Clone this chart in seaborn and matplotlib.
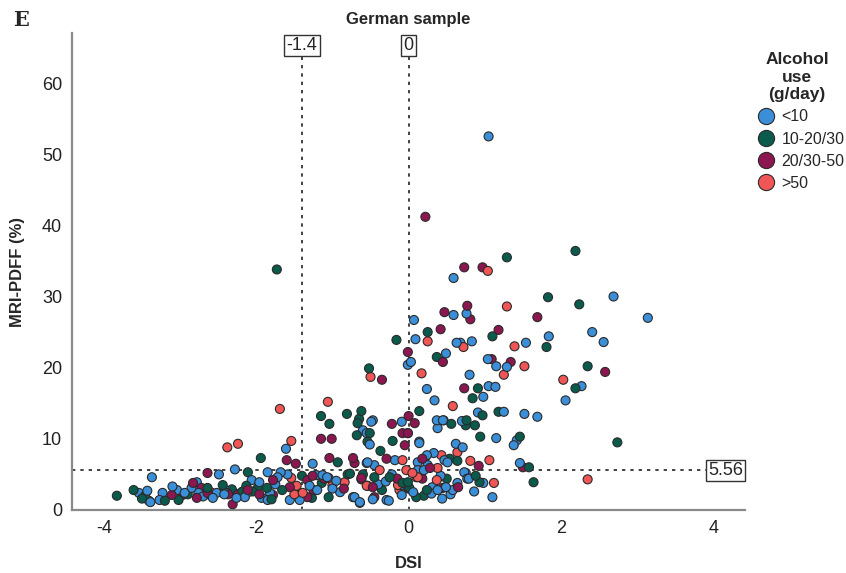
import numpy as np
import pandas as pd
import seaborn as sns
import matplotlib.pyplot as plt

# values (DSI, MRI-PDFF %)
blue_x = [1.05, 0.59, 2.69, 0.59, 0.76, 0.07, 3.14, 2.41, 1.84, 2.56, 0.09, 0.63, 0.68, 0.83, 1.54,
          0.49, -0.01, 0.03, 1.04, 1.15, 1.29, 0.80, 2.27, 0.24, 1.05, 1.14, 0.98, 2.06, 0.34, 1.52,
          1.69, 0.91, 1.25, 0.45, 0.70, 1.15, 1.38, 1.42, 0.62, 0.71, 1.46, 0.37, 0.46, 0.38, 0.14,
          0.24, 0.33, 0.12, 0.47, 0.51, 0.25, 0.12, 0.20, 0.73, 0.79, 0.98, 0.64, 0.49, 0.58, 0.31,
          0.38, 1.10, 0.77, 0.75, -0.09, -0.49, -0.47, -0.60, -0.55, -0.51, -0.01, 0.14, -0.55, -0.45,
          -0.18, -0.22, -0.71, -0.64, -0.47, -0.26, -0.09, 0.30, 0.55, 0.44, -1.61, -1.26, -0.54, -1.85,
          -1.68, -1.59, -1.13, -1.07, -2.06, -1.96, -1.93, -1.85, -0.73, -0.64, -0.29, -2.15, -3.37,
          -2.49, -2.28, -3.54, -3.43, -3.41, -3.39, -3.27, -3.23, -3.04, -2.94, -2.85, -2.76, -2.57,
          -2.78, -2.41, -2.39, -2.26, -2.36, -2.42, -1.72, -1.56, -1.82, -2.20, -2.12, -2.52, -2.63,
          -1.43, -1.21, -1.00, -0.90, -1.20, -0.30, -0.10, 0.00, -3.10, -2.70, -1.75, -1.30, -0.95,
          -0.40, 0.06, 0.42, 0.86]
blue_y = [52.5, 32.6, 30.0, 27.4, 27.6, 26.7, 27.0, 25.0, 24.4, 23.6, 24.0, 23.5, 23.5, 23.7, 23.5,
          22.0, 20.4, 20.8, 21.2, 20.2, 20.1, 19.0, 17.4, 17.0, 17.4, 17.3, 15.9, 15.4, 15.4, 13.5,
          13.1, 13.7, 13.8, 12.6, 12.5, 10.1, 9.1, 9.8, 9.3, 8.8, 6.6, 12.6, 12.6, 11.5, 9.4,
          7.7, 8.0, 6.7, 7.0, 6.7, 6.3, 5.6, 5.6, 5.3, 4.4, 3.8, 3.8, 3.2, 2.8, 3.2,
          2.8, 1.8, 4.4, 5.2, 12.4, 12.4, 12.6, 11.2, 10.8, 9.2, 10.8, 9.6, 6.6, 6.3,
          7.0, 5.0, 1.8, 1.0, 1.5, 1.3, 2.1, 2.3, 2.2, 1.6, 8.6, 6.5, 6.7, 5.3,
          5.3, 5.0, 4.9, 4.6, 4.2, 3.9, 1.7, 1.4, 1.8, 1.1, 1.4, 1.8, 4.6,
          5.0, 5.7, 2.4, 2.7, 1.3, 1.1, 1.4, 2.4, 2.8, 2.4, 3.1, 2.4, 1.7,
          3.9, 2.8, 2.4, 1.7, 2.4, 2.2, 4.6, 1.4, 2.4, 2.4, 2.4, 2.4, 2.2,
          1.4, 4.9, 3.0, 2.5, 2.8, 4.0, 3.5, 3.0, 3.3, 1.9, 3.6, 3.4, 4.1,
          3.6, 2.5, 4.8, 2.6]

green_x = [-1.73, 2.19, 1.29, 1.83, 2.24, 0.25, 1.10, -0.16, 1.81, 0.37, 2.35, -0.52, 2.19, 0.91,
           0.84, 2.74, 0.97, 1.18, 0.56, 0.75, 0.76, 0.87, 0.94, 1.46, 0.54, 0.64, 0.14, 0.88, 0.93,
           1.64, 0.24, 0.01, -0.01, -0.81, -0.62, -0.67, -0.65, -0.68, -0.51, -0.54, -0.21, -0.37,
           -0.77, -0.45, -0.60, 0.24, -1.15, -1.04, -1.94, -0.93, -2.11, -1.40, -1.14, -0.80, -1.98,
           -1.86, -1.66, -1.27, -1.05, -3.83, -3.61, -3.46, -3.20, -3.02, -2.64, -2.44, -2.32, -2.18,
           -2.13, -3.50, -2.05, -1.80, 0.10, 0.20, -0.35, -0.08, 1.58, -2.90, -1.50, -0.25, 0.50]
green_y = [33.8, 36.4, 35.5, 29.9, 28.9, 25.0, 24.4, 23.9, 22.9, 21.5, 20.2, 19.9, 17.1, 17.1,
           15.7, 9.5, 13.3, 13.8, 12.1, 11.9, 12.6, 11.9, 10.3, 10.3, 7.2, 6.9, 13.9, 4.8, 3.9,
           3.9, 2.8, 3.1, 3.9, 13.5, 13.9, 12.2, 12.8, 10.5, 10.8, 9.6, 9.7, 8.3,
           5.1, 4.6, 5.0, 2.7, 13.2, 12.1, 7.3, 6.7, 5.3, 4.8, 3.8, 5.0, 3.1,
           3.1, 2.8, 1.7, 1.8, 2.0, 2.8, 2.0, 1.3, 1.4, 3.1, 3.5, 2.9, 2.6,
           3.4, 1.6, 2.6, 1.5, 1.8, 2.0, 2.8, 3.8, 6.0, 2.2, 3.0, 4.6, 4.4]

maroon_x = [0.22, 0.73, 0.97, 0.77, 0.47, 0.81, 1.69, 0.42, 1.18, -0.01, 0.45, 1.09, 1.34, 2.58,
            -0.35, 0.73, 0.00, 0.08, -0.01, 0.21, 0.92, 1.50, 0.18, 0.45, 0.65, -0.22, -0.08, -0.05,
            -0.73, -0.71, -0.29, -0.62, -0.47, 0.28, 0.18, -1.15, -1.01, -1.60, -1.48, -1.04, -1.26,
            -1.33, -1.11, -0.62, -0.45, -1.33, -1.78, -1.78, -1.56, -2.11, -2.64, -3.11, -2.83, -2.78,
            -2.72, -2.64, -2.31, -2.24, -2.37, -1.96, -2.97, -1.25, -0.15, -0.85]
maroon_y = [41.2, 34.1, 34.1, 28.7, 27.8, 26.8, 27.1, 25.4, 25.3, 22.2, 20.8, 21.2, 20.8, 19.4,
            18.3, 17.1, 13.2, 12.2, 10.8, 7.2, 6.2, 6.0, 7.2, 3.1, 3.2, 12.1, 10.8, 9.1,
            7.3, 6.6, 7.2, 4.5, 3.2, 5.9, 4.4, 10.0, 10.0, 7.0, 6.5, 7.3, 4.8,
            4.2, 4.4, 4.3, 1.8, 1.8, 2.1, 4.2, 3.2, 2.8, 5.2, 2.1, 3.8, 1.7,
            3.1, 2.4, 0.8, 2.2, 2.2, 2.2, 2.1, 2.8, 4.4, 3.0]

red_x = [1.04, 1.29, 0.25, 0.72, 1.39, 1.52, -0.50, 0.17, 1.25, 2.03, 0.58, 0.64, 0.43, 0.81,
         1.06, 0.38, -0.03, 0.12, 0.37, 1.12, 2.35, -1.69, -1.06, -1.54, -2.38, -2.24, -0.38,
         -0.08, -0.55, -0.14, -0.12, 0.10, -1.54, -1.47, -1.00, -0.84, -0.54, -1.39, -1.50, -1.05,
         -2.60, 0.05]
red_y = [33.6, 28.6, 23.7, 22.9, 23.0, 20.2, 18.7, 19.2, 19.0, 18.3, 14.6, 8.1, 7.7, 6.9,
         7.0, 5.9, 5.6, 4.6, 4.2, 3.8, 4.3, 14.2, 15.2, 9.7, 8.8, 9.3, 5.6,
         7.0, 3.4, 3.5, 2.8, 4.6, 4.5, 3.4, 3.5, 3.9, 3.4, 2.4, 2.2, 4.5,
         2.5, 5.2]

groups = ['<10', '10-20/30', '20/30-50', '>50']
colors = ['#3a8fd8', '#0a5b4c', '#8c1750', '#f05656']

ref_x = [-1.4, 0]
ref_x_labels = ['-1.4', '0']
ref_y = 5.56
ref_y_label = '5.56'


def main():
    df = pd.concat([
        pd.DataFrame({'DSI': blue_x, 'PDFF': blue_y, 'Alcohol': groups[0]}),
        pd.DataFrame({'DSI': green_x, 'PDFF': green_y, 'Alcohol': groups[1]}),
        pd.DataFrame({'DSI': maroon_x, 'PDFF': maroon_y, 'Alcohol': groups[2]}),
        pd.DataFrame({'DSI': red_x, 'PDFF': red_y, 'Alcohol': groups[3]}),
    ], ignore_index=True)
    # mix draw order a bit like the original
    df = df.sample(frac=1.0, random_state=3).reset_index(drop=True)

    sns.set_style('white')
    plt.rcParams['font.family'] = ['Liberation Sans', 'DejaVu Sans']

    fig = plt.figure(figsize=(8.46, 5.73), dpi=100)
    ax = fig.add_axes([0.085, 0.110, 0.796, 0.832])

    sns.scatterplot(data=df, x='DSI', y='PDFF', hue='Alcohol', hue_order=groups,
                    palette=colors, s=42, edgecolor='#2a2a2a', linewidth=0.8, ax=ax, zorder=3)

    ax.set_xlim(-4.42, 4.42)
    ax.set_ylim(0, 67)
    ax.set_xticks([-4, -2, 0, 2, 4])
    ax.set_yticks([0, 10, 20, 30, 40, 50, 60])
    ax.set_xticklabels(['-4', '-2', '0', '2', '4'], fontsize=13, color='#222')
    ax.set_yticklabels(['0', '10', '20', '30', '40', '50', '60'], fontsize=13, color='#222')
    ax.tick_params(length=0, pad=7)
    for side in ['top', 'right']:
        ax.spines[side].set_visible(False)
    for side in ['left', 'bottom']:
        ax.spines[side].set_color('#8a8a8a')
        ax.spines[side].set_linewidth(1.6)

    ax.set_xlabel('DSI', fontsize=12, fontweight='bold', labelpad=14)
    ax.set_ylabel('MRI-PDFF (%)', fontsize=12, fontweight='bold', labelpad=12)

    # reference lines
    for xv, lab in zip(ref_x, ref_x_labels):
        ax.vlines(xv, 0, 63.6, colors='#222', linestyles=(0, (2, 3)), linewidth=1.2, zorder=2)
        ax.text(xv, 65.3, lab, ha='center', va='center', fontsize=13,
                bbox=dict(boxstyle='square,pad=0.12', fc='white', ec='#333', lw=1))
    ax.hlines(ref_y, -4.42, 3.92, colors='#222', linestyles=(0, (2, 3)), linewidth=1.2, zorder=2)
    ax.text(4.16, ref_y, ref_y_label, ha='center', va='center', fontsize=13,
            bbox=dict(boxstyle='square,pad=0.12', fc='white', ec='#333', lw=1), clip_on=False)

    ax.set_title('German sample', fontsize=12, fontweight='bold', pad=7)
    fig.text(0.015, 0.965, 'E', fontsize=15, fontweight='bold', family='DejaVu Serif', va='center')

    sns.move_legend(ax, 'upper left', bbox_to_anchor=(0.985, 0.99), frameon=False,
                    title='Alcohol\nuse\n(g/day)', alignment='center', markerscale=1.8,
                    handletextpad=0.0, labelspacing=0.45, fontsize=11.5, title_fontsize=12.5)
    leg = ax.get_legend()
    leg.get_title().set_fontweight('bold')
    leg.get_title().set_multialignment('center')
    for h in leg.legend_handles:
        h.set_markeredgecolor('#2a2a2a')

    fig.savefig('out.png', dpi=100)
    plt.close()


if __name__ == "__main__":
    main()
